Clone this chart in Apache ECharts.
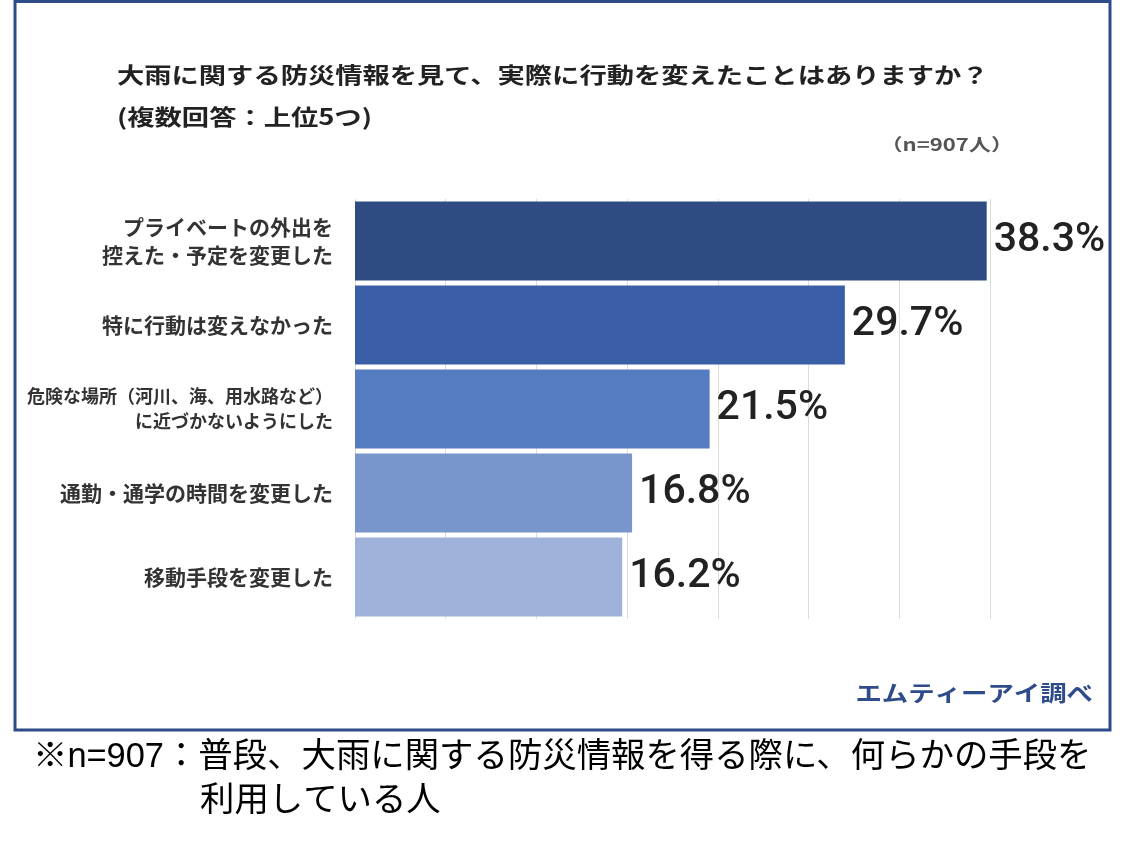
<!DOCTYPE html>
<html>
<head>
<meta charset="utf-8">
<script src="https://cdn.jsdelivr.net/npm/echarts@6/dist/echarts.min.js"></script>
<style>
html,body{margin:0;padding:0;background:#fff;}
#c{width:1128px;height:859px;}
</style>
</head>
<body>
<div id="c"></div>
<script>
const categories = [
  'プライベートの外出を\n控えた・予定を変更した',
  '特に行動は変えなかった',
  '危険な場所（河川、海、用水路など）\nに近づかないようにした',
  '通勤・通学の時間を変更した',
  '移動手段を変更した'
];
const values = [38.3, 29.7, 21.5, 16.8, 16.2];
const titleLine1 = '大雨に関する防災情報を見て、実際に行動を変えたことはありますか？';
const titleLine2 = '(複数回答：上位5つ)';
const sampleNote = '（n=907人）';
const sourceNote = 'エムティーアイ調べ';
const footLine1 = '※n=907：普段、大雨に関する防災情報を得る際に、何らかの手段を';
const footLine2 = '利用している人';

const palette = ['#2e4c82', '#3a5fa7', '#557bc1', '#7896cc', '#9fb3da'];
const CJK = '"Noto Sans CJK JP", sans-serif';

const chart = echarts.init(document.getElementById('c'));
chart.setOption({
  backgroundColor: '#fff',
  animation: false,
  grid: { left: 355, right: 138, top: 199, bottom: 240 },
  xAxis: {
    type: 'value', min: 0, max: 38.5, interval: 5.5,
    axisLabel: { show: false },
    axisLine: { show: false }, axisTick: { show: false },
    splitLine: { show: true, lineStyle: { color: '#dcdcdc', width: 1 } }
  },
  yAxis: {
    type: 'category', inverse: true, data: categories,
    axisLine: { show: false }, axisTick: { show: false },
    axisLabel: {
      margin: 22, color: '#333', fontFamily: CJK, fontWeight: 'bold',
      fontSize: 21, lineHeight: 28, align: 'right',
      formatter: function (v, i) {
        if (i === 2) return v.split('\n').map(s => '{s|' + s + '}').join('\n');
        return v;
      },
      rich: { s: { fontSize: 18, lineHeight: 25, fontFamily: CJK, fontWeight: 'bold', color: '#333', align: 'right' } }
    }
  },
  series: [{
    type: 'bar',
    data: values.map((v, i) => ({ value: v, itemStyle: { color: palette[i] } })),
    barCategoryGap: '6%',
    label: {
      show: true, position: 'right', distance: 7,
      formatter: p => p.value.toFixed(1) + '%',
      fontFamily: 'Roboto, sans-serif', fontWeight: 500,
      fontSize: 41, color: '#222'
    }
  }],
  graphic: [
    { type: 'rect', shape: { x: 15, y: 1.5, width: 1095, height: 728.5 },
      style: { fill: 'none', stroke: '#2e4b8a', lineWidth: 3 }, silent: true },
    { type: 'text', x: 117, y: 75, scaleX: 1.24,
      style: { text: titleLine1, fill: '#222', font: 'bold 22px ' + CJK, verticalAlign: 'middle', align: 'left' } },
    { type: 'text', x: 117, y: 117, scaleX: 1.24,
      style: { text: titleLine2, fill: '#222', font: 'bold 22px ' + CJK, verticalAlign: 'middle', align: 'left' } },
    { type: 'text', x: 1013, y: 145, scaleX: 1.3,
      style: { text: sampleNote, fill: '#555', font: 'bold 17px ' + CJK, verticalAlign: 'middle', align: 'right' } },
    { type: 'text', x: 1093, y: 693, scaleX: 1.2,
      style: { text: sourceNote, fill: '#2e4b8a', font: 'bold 22px ' + CJK, verticalAlign: 'middle', align: 'right' } },
    { type: 'text', x: 33, y: 758,
      style: { text: footLine1, fill: '#000', font: '34.4px "Liberation Sans", ' + CJK, verticalAlign: 'middle', align: 'left' } },
    { type: 'text', x: 200, y: 802,
      style: { text: footLine2, fill: '#000', font: '34.4px "Liberation Sans", ' + CJK, verticalAlign: 'middle', align: 'left' } }
  ]
});
</script>
</body>
</html>
